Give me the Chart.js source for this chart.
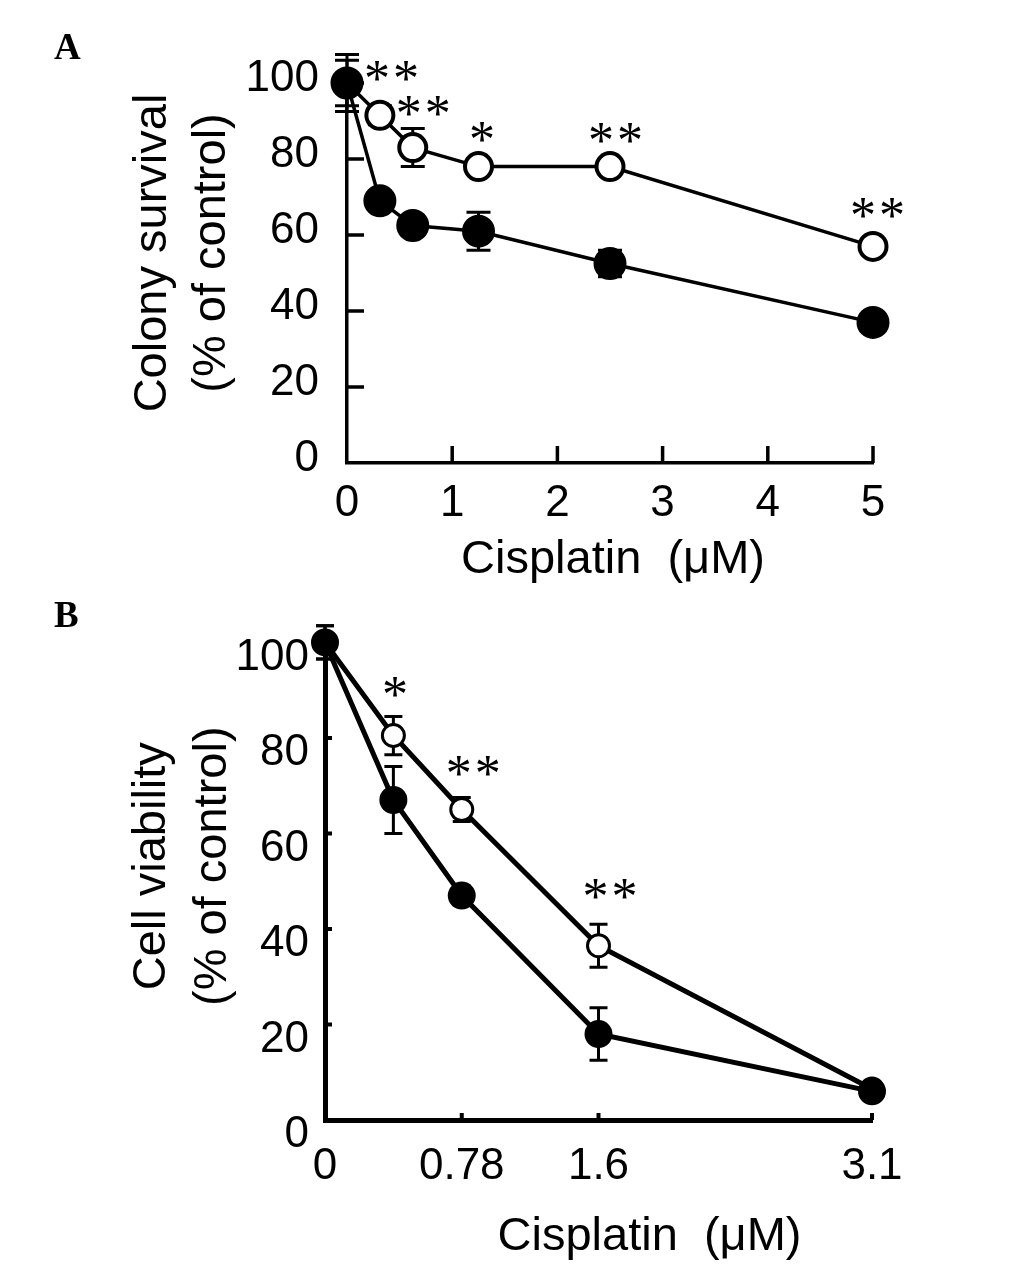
<!DOCTYPE html>
<html>
<head>
<meta charset="utf-8">
<script src="https://cdn.jsdelivr.net/npm/chart.js@4.4.1/dist/chart.umd.min.js"></script>
<style>
  html, body { margin: 0; padding: 0; background: #fff; }
  #wrap { position: relative; width: 1033px; height: 1270px; }
  canvas { position: absolute; left: 0; }
  #cA { top: 0; }
  #cB { top: 600px; }
  .panel { position: absolute; font: bold 37px/1 'Liberation Serif', 'Times New Roman', serif; color: #000; }
</style>
</head>
<body>
<div id="wrap">
  <canvas id="cA" width="1033" height="600"></canvas>
  <canvas id="cB" width="1033" height="670"></canvas>
  <div class="panel" style="left:54px; top:28px">A</div>
  <div class="panel" style="left:54px; top:596px">B</div>
</div>
<script>
// panel A - colony survival
var doseA = [0, 0.3125, 0.625, 1.25, 2.5, 5];
var filledA = [100, 69, 62.5, 61, 52.5, 37];
var filledErrA = [6, 2.5, 2.5, 5, 3.5, 1.5];
var openA = [100, 91.5, 83, 78, 78, 57];
var openErrA = [7.5, 2.5, 5, 1, 1.5, 1.5];
var starsA = ['', '**', '**', '*', '**', '**'];
var xTicksA = [0, 1, 2, 3, 4, 5];

// panel B - cell viability
var doseB = [0, 0.390625, 0.78125, 1.5625, 3.125];
var filledB = [100, 67, 47, 18, 6];
var filledErrB = [3.5, 7, 2, 5.5, 1];
var openB = [100, 80.5, 65, 36.5, 6.5];
var openErrB = [3.5, 4, 2.5, 4.5, 1];
var starsB = ['', '*', '**', '**', ''];
var xTicksB = [0, 0.78125, 1.5625, 3.125];
var xLabelsB = ['0', '0.78', '1.6', '3.1'];

var yTicks = [0, 20, 40, 60, 80, 100];

function pts(xs, ys) {
    return xs.map(function (v, i) { return { x: v, y: ys[i] }; });
}

// ticks inside the axes, error bars, asterisks, axis titles
var marks = {
    id: 'marks',
    beforeDatasetsDraw: function (chart, args, o) {
        var ctx = chart.ctx, sx = chart.scales.x, sy = chart.scales.y, a = chart.chartArea;
        ctx.save();
        ctx.strokeStyle = '#000';
        ctx.lineWidth = o.tickWidth;
        ctx.beginPath();
        sx.ticks.forEach(function (t) {
            if (t.value === sx.min) return;
            var px = sx.getPixelForValue(t.value);
            ctx.moveTo(px, a.bottom);
            ctx.lineTo(px, a.bottom - o.tickLen);
        });
        sy.ticks.forEach(function (t) {
            if (t.value === sy.min) return;
            var py = sy.getPixelForValue(t.value);
            ctx.moveTo(a.left, py);
            ctx.lineTo(a.left + o.tickLen, py);
        });
        ctx.stroke();

        // error bars (under the markers)
        ctx.lineWidth = o.errWidth;
        chart.data.datasets.forEach(function (ds) {
            ds.data.forEach(function (p, i) {
                var e = ds.err[i];
                if (!e) return;
                var px = sx.getPixelForValue(p.x);
                var t = sy.getPixelForValue(p.y + e), b = sy.getPixelForValue(p.y - e);
                ctx.beginPath();
                ctx.moveTo(px, t); ctx.lineTo(px, b);
                ctx.moveTo(px - o.cap, t); ctx.lineTo(px + o.cap, t);
                ctx.moveTo(px - o.cap, b); ctx.lineTo(px + o.cap, b);
                ctx.stroke();
            });
        });
        ctx.restore();
    },
    afterDatasetsDraw: function (chart, args, o) {
        var ctx = chart.ctx, sx = chart.scales.x, sy = chart.scales.y, a = chart.chartArea;
        ctx.save();
        ctx.fillStyle = '#000';
        ctx.textAlign = 'center';
        ctx.textBaseline = 'middle';

        // significance marks over the open circles
        ctx.font = o.starFont;
        ctx.letterSpacing = '3px';
        var open = chart.data.datasets[1];
        o.stars.forEach(function (s, i) {
            if (!s) return;
            var p = open.data[i];
            ctx.fillText(s, sx.getPixelForValue(p.x) + o.starDx[i], sy.getPixelForValue(p.y) + o.starDy[i]);
        });
        ctx.letterSpacing = '0px';

        // axis titles
        ctx.font = o.titleFont;
        ctx.fillText(o.xTitle, (a.left + a.right) / 2 + o.xTitlePos[0], a.bottom + o.xTitlePos[1]);
        var my = (a.top + a.bottom) / 2 + o.yTitleDy;
        o.yTitle.forEach(function (line, k) {
            ctx.save();
            ctx.translate(a.left + o.yTitleDx[k], my);
            ctx.rotate(-Math.PI / 2);
            ctx.fillText(line, 0, 0);
            ctx.restore();
        });
        ctx.restore();
    }
};

var tickFont = { family: "'Liberation Sans', Arial, sans-serif", size: 44 };
var titleFont = "47px 'Liberation Sans', Arial, sans-serif";
var starFont = "52px 'Liberation Serif', 'Times New Roman', serif";

function makeChart(id, cfg) {
    return new Chart(document.getElementById(id), {
        type: 'scatter',
        data: {
            datasets: [{
                // filled circles drawn on top
                data: pts(cfg.dose, cfg.filled),
                err: cfg.filledErr,
                showLine: true,
                borderColor: '#000',
                borderWidth: cfg.lineW,
                pointRadius: cfg.filledR,
                pointBackgroundColor: '#000',
                pointBorderColor: '#000',
                pointBorderWidth: 2,
                clip: false
            }, {
                data: pts(cfg.dose, cfg.open),
                err: cfg.openErr,
                showLine: true,
                borderColor: '#000',
                borderWidth: cfg.lineW,
                pointRadius: cfg.openR,
                pointBackgroundColor: '#fff',
                pointBorderColor: '#000',
                pointBorderWidth: cfg.openBW,
                clip: false
            }]
        },
        options: {
            responsive: false,
            animation: false,
            layout: { autoPadding: false, padding: { top: cfg.top, right: cfg.right, left: 0, bottom: 0 } },
            plugins: {
                legend: { display: false },
                tooltip: { enabled: false },
                marks: {
                    tickLen: cfg.tickLen, tickWidth: cfg.tickW, errWidth: 3, cap: cfg.cap,
                    stars: cfg.stars, starDx: cfg.starDx, starDy: cfg.starDy, starFont: starFont,
                    titleFont: titleFont, xTitle: 'Cisplatin  (\u03bcM)', xTitlePos: cfg.xTitlePos,
                    yTitle: cfg.yTitle, yTitleDx: cfg.yTitleDx, yTitleDy: cfg.yTitleDy
                }
            },
            scales: {
                x: {
                    type: 'linear',
                    min: 0,
                    max: cfg.xMax,
                    afterFit: function (s) { s.height = cfg.xH; },
                    afterBuildTicks: function (s) { s.ticks = cfg.xTicks.map(function (v) { return { value: v }; }); },
                    grid: { display: false, drawTicks: false },
                    border: { display: true, color: '#000', width: cfg.axisW },
                    ticks: {
                        color: '#000', font: tickFont, padding: cfg.xPad, maxRotation: 0, autoSkip: false,
                        callback: function (v) {
                            var i = cfg.xTicks.indexOf(v);
                            return cfg.xLabels ? cfg.xLabels[i] : String(v);
                        }
                    }
                },
                y: {
                    min: 0,
                    max: 100,
                    afterFit: function (s) { s.width = cfg.yW; },
                    afterBuildTicks: function (s) { s.ticks = yTicks.map(function (v) { return { value: v }; }); },
                    grid: { display: false, drawTicks: false },
                    border: { display: true, color: '#000', width: cfg.axisW },
                    ticks: { color: '#000', font: tickFont, padding: cfg.yPad, labelOffset: cfg.yLabelOffset }
                }
            }
        },
        plugins: [marks]
    });
}

makeChart('cA', {
    dose: doseA, filled: filledA, filledErr: filledErrA, open: openA, openErr: openErrA,
    stars: starsA, starDx: [0, 13, 12, 5, 7, 6], starDy: [0, -33, -30, -23, -22, -27],
    xTicks: xTicksA, xMax: 5,
    top: 83, right: 160, xH: 137, yW: 347,
    lineW: 3.5, axisW: 3.5, tickW: 3.5, tickLen: 17, cap: 12,
    filledR: 15.5, openR: 13.5, openBW: 4,
    xPad: 14, yPad: 28, yLabelOffset: -4,
    xTitlePos: [3, 97],
    yTitle: ['Colony survival', '(% of control)'], yTitleDx: [-194, -135], yTitleDy: -20
});

makeChart('cB', {
    dose: doseB, filled: filledB, filledErr: filledErrB, open: openB, openErr: openErrB,
    stars: starsB, starDx: [0, 3, 13, 13, 0], starDy: [0, -37, -32, -45, 0],
    xTicks: xTicksB, xLabels: xLabelsB, xMax: 3.125,
    top: 40, right: 161, xH: 150, yW: 325,
    lineW: 5, axisW: 5, tickW: 4, tickLen: 7, cap: 9,
    filledR: 13, openR: 11, openBW: 3,
    xPad: 20, yPad: 16, yLabelOffset: 15,
    xTitlePos: [51, 117],
    yTitle: ['Cell viability', '(% of control)'], yTitleDx: [-173, -112], yTitleDy: -15
});
</script>
</body>
</html>
